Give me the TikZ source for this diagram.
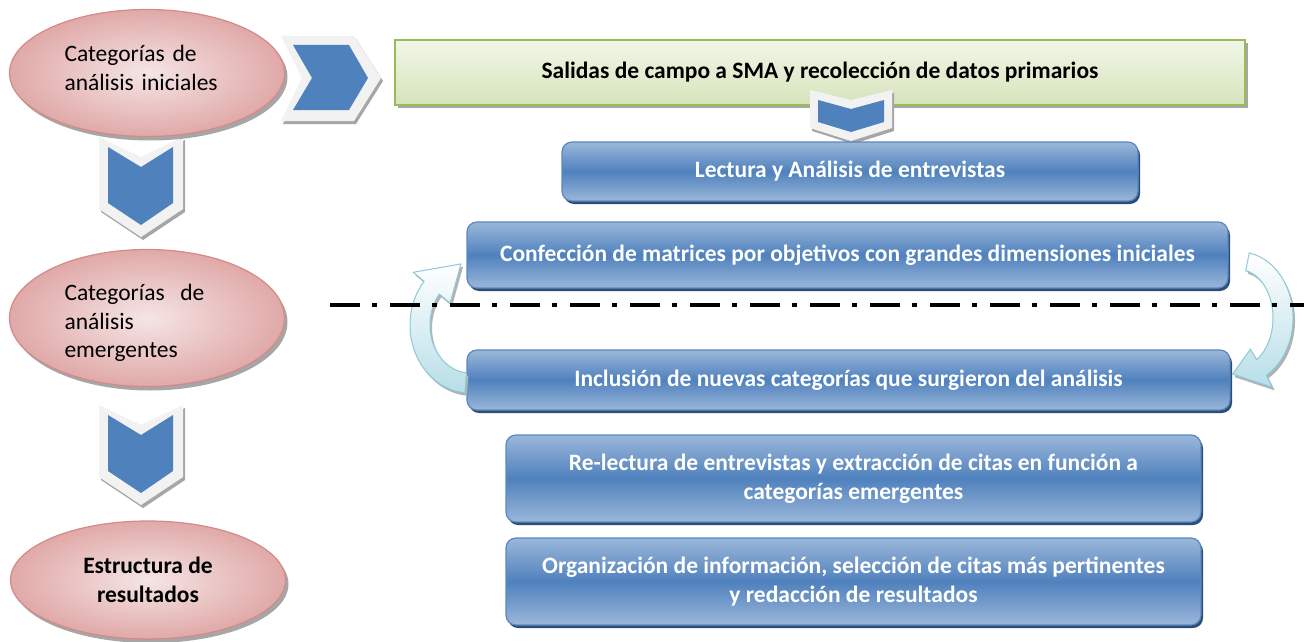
\documentclass[tikz,border=0pt]{standalone}
\usepackage{fontspec}
\setmainfont{Carlito}
\usepackage{tikz}
\usetikzlibrary{positioning,shapes.geometric,shadows,calc}

\definecolor{boxmid}{HTML}{4F81BD}
\definecolor{boxlight}{HTML}{9BB7DA}
\definecolor{boxdark}{HTML}{2C4D75}
\definecolor{boxedge}{HTML}{5A87C0}
\definecolor{pinklight}{HTML}{F5E5E5}
\definecolor{pinkdark}{HTML}{E0A9A8}
\definecolor{pinkedge}{HTML}{D48A88}
\definecolor{greenlight}{HTML}{F1F6E8}
\definecolor{greendark}{HTML}{D6E4BB}
\definecolor{greenedge}{HTML}{9BBB59}
\definecolor{rimgray}{HTML}{F2F2F2}
\definecolor{arrowcyan}{HTML}{B7DEE8}
\definecolor{arrowedge}{HTML}{8CC9D9}

\newcommand\sizefont{\fontsize{23.5pt}{28.6pt}\selectfont}

\tikzset{
	cat/.style={ellipse,draw=pinkedge,line width=1.2pt,inner color=pinklight,outer color=pinkdark,
		minimum width=275pt,minimum height=127pt,inner sep=0pt,
		drop shadow={shadow xshift=3pt,shadow yshift=-4pt,fill=gray!70,opacity=1}},
	cattext/.style={text width=165pt,align=left,inner sep=0pt},
	task/.style={rectangle,rounded corners=10pt,draw=boxedge,line width=1.2pt,
		top color=boxlight,bottom color=boxlight,middle color=boxmid,
		text=white,font=\sizefont\bfseries,align=center,
		drop shadow={shadow xshift=2pt,shadow yshift=-3pt,fill=boxdark,opacity=1}},
	field/.style={rectangle,draw=greenedge,line width=2pt,top color=greenlight,bottom color=greendark,
		font=\sizefont\bfseries,drop shadow={shadow xshift=3pt,shadow yshift=-3pt,fill=gray!70,opacity=1}},
	chevrim/.style={fill=rimgray,drop shadow={shadow xshift=2pt,shadow yshift=-3pt,fill=gray!70,opacity=1}},
	chevcore/.style={fill=boxmid},
	loop/.style={draw=arrowedge,line width=1pt,top color=white,bottom color=arrowcyan,
		drop shadow={shadow xshift=2pt,shadow yshift=-3pt,fill=gray!60,opacity=1}}
}

\begin{document}
\begin{tikzpicture}[x=1pt,y=-1pt,font=\sizefont]
		\useasboundingbox (0,0) rectangle (1304,642);
		\def\ly{305}

		%chevrons
		\foreach \cy in {147,415}{
			\fill[chevrim] (99,\cy-10) -- (141,\cy+10) -- (183,\cy-10) -- (183,\cy+62) -- (141,\cy+90) -- (99,\cy+62) -- cycle;
			\fill[chevcore] (108,\cy) -- (141,\cy+20) -- (173,\cy) -- (173,\cy+56) -- (141,\cy+78) -- (108,\cy+56) -- cycle;
		}
		\fill[chevrim] (281,36) -- (354,36) -- (381,78) -- (354,121) -- (281,121) -- (302,78) -- cycle;
		\fill[chevcore] (293,45) -- (349,45) -- (368,78) -- (349,110) -- (293,110) -- (312,78) -- cycle;

		%categories
		\node[cat] (ini) at (147,73) {};
		\node[cattext] (initxt) at ($(ini.center)+(0,-5)$) {Categorías de\\análisis iniciales};
		\node[cat,minimum height=137pt] (eme) at (147,318) {};
		\node[cattext] (emetxt) at ($(eme.center)+(0,5)$) {Categorías~ de\\análisis\\emergentes};
		\node[cat,align=center,font=\sizefont\bfseries,minimum height=118pt] (res) at (148,580) {Estructura de\\resultados};

		%steps
		\node[field,minimum width=850pt,minimum height=65pt] (sal) at (820,72.5) {Salidas de campo a SMA y recolección de datos primarios};
		\fill[chevrim] (810,90) -- (851,100) -- (892,90) -- (892,128) -- (851,141) -- (810,128) -- cycle;
		\fill[chevcore] (818,100) -- (851,109) -- (884,100) -- (884,122) -- (851,132) -- (818,122) -- cycle;

		\node[task,minimum width=576pt,minimum height=59pt] (lec) at (850,171.5) {Lectura y Análisis de entrevistas};
		\node[task,minimum width=761pt,minimum height=66pt] (con) at (847.5,255) {Confección de matrices por objetivos con grandes dimensiones iniciales};
		\node[task,minimum width=763pt,minimum height=60pt] (inc) at (848.5,380) {Inclusión de nuevas categorías que surgieron del análisis};
		\node[task,minimum width=695pt,minimum height=87pt] (rel) at (853.5,478.5) {Re-lectura de entrevistas y extracción de citas en función a\\categorías emergentes};
		\node[task,minimum width=695pt,minimum height=87pt] (org) at (853.5,581.5) {Organización de información, selección de citas más pertinentes\\y redacción de resultados};

		%loop arrows
		\coordinate (lc) at (470,325);
		\coordinate (rc) at (1240,318);
		\path[loop] ($(lc)+(95:60 and 68)$) arc[start angle=95,end angle=220,x radius=60,y radius=68]
			-- ($(lc)+(220:74 and 82)$) -- ($(lc)+(260:52 and 62)$) -- ($(lc)+(220:26 and 34)$)
			-- ($(lc)+(220:40 and 48)$) arc[start angle=220,end angle=95,x radius=40,y radius=48] -- cycle;
		\path[loop] ($(rc)+(-80:53 and 66)$) arc[start angle=-80,end angle=60,x radius=53,y radius=66]
			-- ($(rc)+(60:65 and 80)$) -- ($(rc)+(100:43 and 57)$) -- ($(rc)+(60:21 and 36)$)
			-- ($(rc)+(60:33 and 48)$) arc[start angle=60,end angle=-80,x radius=33,y radius=48] -- cycle;

		%divider
		\coordinate (dl) at (330,\ly);
		\coordinate (dr) at (1304,\ly);
		\draw[line width=3.5pt,dash pattern=on 30pt off 12pt on 5pt off 13pt] (dl) -- (dr);
\end{tikzpicture}
\end{document}
